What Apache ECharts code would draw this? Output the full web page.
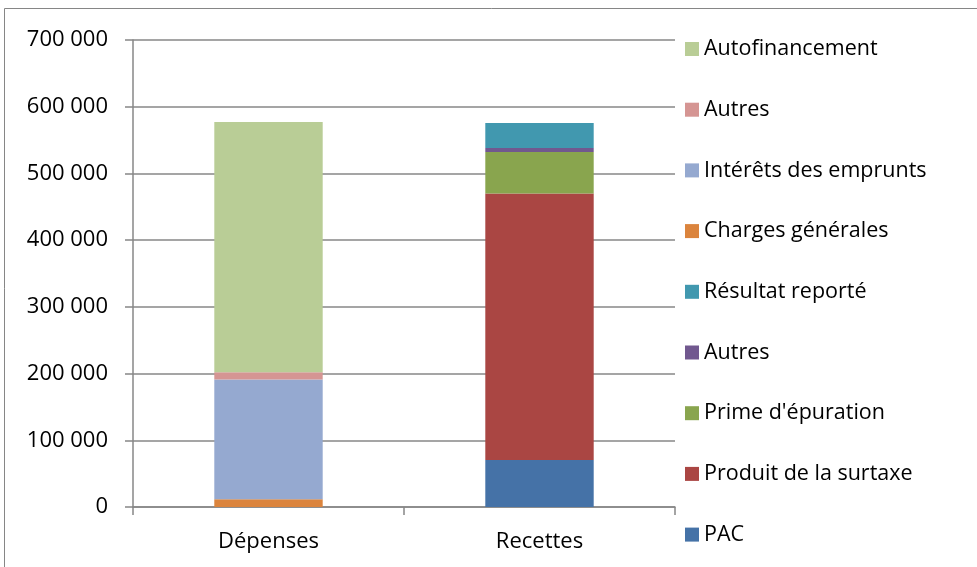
<!DOCTYPE html>
<html>
<head>
<meta charset="utf-8">
<script src="https://cdn.jsdelivr.net/npm/echarts@6/dist/echarts.min.js"></script>
<style>
  html, body { margin: 0; padding: 0; background: #fff; }
  #chart { width: 977px; height: 567px; }
</style>
</head>
<body>
<div id="chart"></div>
<script>
const categories = ["Dépenses", "Recettes"];

// values per category: [Dépenses, Recettes]
const charges = [11500, null];
const interets = [179500, null];
const autresDep = [11000, null];
const autofinancement = [375000, null];
const pac = [null, 70500];
const surtaxe = [null, 399500];
const prime = [null, 62000];
const autresRec = [null, 6000];
const resultat = [null, 37500];

const yTicks = [0, 100000, 200000, 300000, 400000, 500000, 600000, 700000];

const chart = echarts.init(document.getElementById("chart"));

const FONT = "'Open Sans', sans-serif";
const FS = 22;

function bar(name, data, color) {
  return {
    name: name,
    type: "bar",
    stack: "total",
    barWidth: "40%",
    data: data,
    itemStyle: { color: color },
  };
}

// second "Autres" carries a trailing space so the legend keeps both entries
const series = [
  bar("Charges générales", charges, "#DB843D"),
  bar("Intérêts des emprunts", interets, "#95A9D0"),
  bar("Autres", autresDep, "#D59593"),
  bar("Autofinancement", autofinancement, "#B9CD96"),
  bar("PAC", pac, "#4572A7"),
  bar("Produit de la surtaxe", surtaxe, "#AA4643"),
  bar("Prime d'épuration", prime, "#89A54E"),
  bar("Autres ", autresRec, "#71588F"),
  bar("Résultat reporté", resultat, "#4198AF"),
];

const option = {
  animation: false,
  textStyle: { fontFamily: FONT },
  grid: { left: 133, right: 302, top: 40, bottom: 60 },
  legend: {
    orient: "vertical",
    left: 685,
    top: 38,
    padding: 0,
    itemWidth: 14,
    itemHeight: 14,
    itemGap: 38.7,
    icon: "rect",
    textStyle: { fontSize: 21.5, color: "#000", fontFamily: FONT, lineHeight: 22 },
    data: [
      "Autofinancement",
      "Autres",
      "Intérêts des emprunts",
      "Charges générales",
      "Résultat reporté",
      "Autres ",
      "Prime d'épuration",
      "Produit de la surtaxe",
      "PAC",
    ],
  },
  xAxis: {
    type: "category",
    data: categories,
    axisLine: { lineStyle: { color: "#878787", width: 1.5 } },
    axisTick: { show: true, length: 8, lineStyle: { color: "#878787", width: 1.5 } },
    axisLabel: { fontSize: FS, color: "#000", margin: 24 },
  },
  yAxis: {
    type: "value",
    min: yTicks[0],
    max: yTicks[yTicks.length - 1],
    interval: 100000,
    axisLine: { show: true, lineStyle: { color: "#878787", width: 1.5 } },
    axisTick: { show: true, length: 8, lineStyle: { color: "#878787", width: 1.5 } },
    splitLine: { show: true, lineStyle: { color: "#878787", width: 1.5 } },
    axisLabel: {
      fontSize: FS,
      color: "#000",
      margin: 25,
      formatter: function (v) {
        return v.toString().replace(/\B(?=(\d{3})+(?!\d))/g, " ");
      },
    },
  },
  graphic: [
    {
      type: "rect",
      shape: { x: 4.5, y: 8.5, width: 1100, height: 700 },
      style: { fill: "none", stroke: "#868686", lineWidth: 1 },
      silent: true,
    },
  ],
  series: series,
};

chart.setOption(option);
</script>
</body>
</html>
